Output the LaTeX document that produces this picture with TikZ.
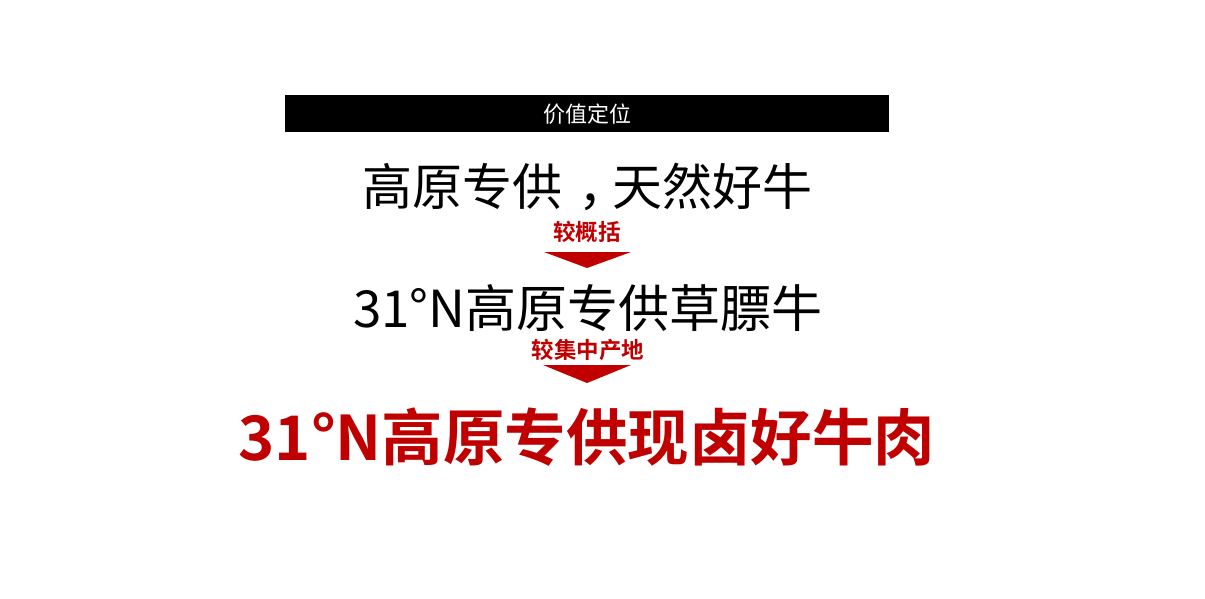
\documentclass[tikz,border=0pt]{standalone}
\usepackage{fontspec}
\setmainfont{Noto Sans CJK SC}
\newfontfamily\cjkbold{Noto Sans CJK SC Bold}
\definecolor{brandred}{HTML}{C00000}
\newcommand{\midcomma}{\makebox[1em][l]{\hspace{0.32em}\rlap{，}}}
\begin{document}
\begin{tikzpicture}[x=1pt,y=-1pt,
  every node/.style={inner sep=0pt,outer sep=0pt},
  heading/.style={text=white,font=\fontsize{22}{26}\selectfont},
  mainline/.style={text=black,font=\fontsize{50}{60}\selectfont},
  redlabel/.style={text=brandred,font=\cjkbold\fontsize{22.5}{26}\selectfont},
  finalline/.style={text=brandred,font=\cjkbold\fontsize{61.5}{72}\selectfont},
  downarrow/.style={fill=brandred}]
\useasboundingbox (0,0) rectangle (1205,599);
\fill[white] (0,0) rectangle (1205,599);
\fill[black] (285,95) rectangle (889,132);
\node[heading] (head) at (587,114) {价值定位};
\node[mainline] (l1) at (587,187) {高原专供\midcomma 天然好牛};
\node[redlabel] (lab1) at (587,232) {较概括};
\coordinate (t1a) at (544,252);
\coordinate (t1b) at (631,252);
\coordinate (t1c) at (587,268);
\fill[downarrow] (t1a) -- (t1b) -- (t1c) -- cycle;
\node[mainline,font=\fontsize{51}{60}\selectfont] (l2) at (588,308) {31°N高原专供草膘牛};
\node[redlabel] (lab2) at (588,350) {较集中产地};
\coordinate (t2a) at (543,365);
\coordinate (t2b) at (631,365);
\coordinate (t2c) at (587,383);
\fill[downarrow] (t2a) -- (t2b) -- (t2c) -- cycle;
\node[finalline] (l3) at (587,437) {31°N高原专供现卤好牛肉};
\end{tikzpicture}
\end{document}
